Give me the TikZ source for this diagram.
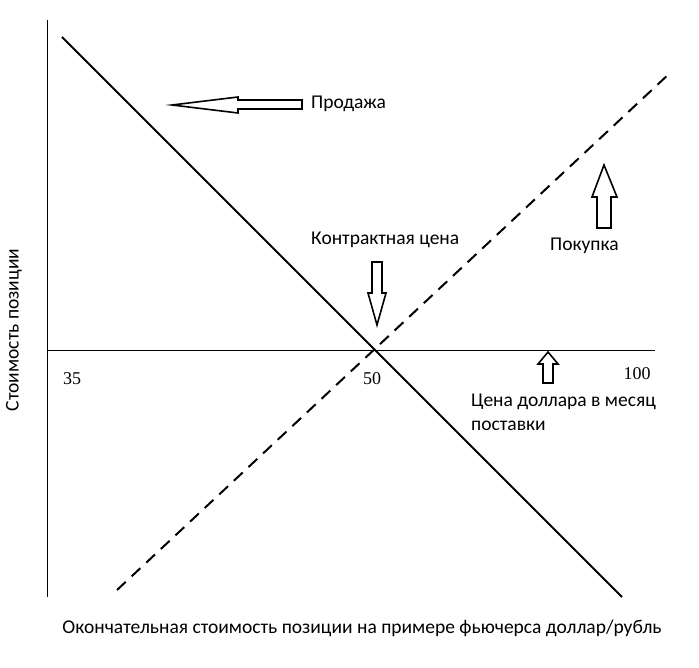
\documentclass[tikz,border=0pt]{standalone}
\usepackage{fontspec}
\setmainfont{Carlito}
\newfontfamily\numfont{Liberation Serif}
\begin{document}
\begin{tikzpicture}[x=1pt,y=-1pt,
  blk/.style={draw,line width=1.6pt,fill=white,line join=miter},
  lbl/.style={inner sep=0pt,font=\fontsize{19.5}{24}\selectfont},
  num/.style={inner sep=0pt,font=\numfont\fontsize{18}{22}\selectfont}]
\useasboundingbox (0,0) rectangle (699,668);
\coordinate (yt) at (47,20); \coordinate (yb) at (47,597);
\coordinate (xl) at (47,350); \coordinate (xr) at (655,350);
\draw[line width=0.8pt] (yt) -- (yb);
\draw[line width=0.8pt] (xl) -- (xr);
\coordinate (s1) at (62,37); \coordinate (s2) at (622,597);
\draw[line width=2pt] (s1) -- (s2);
\coordinate (d1) at (117,590); \coordinate (d2) at (670,73);
\draw[line width=2pt,dash pattern=on 12pt off 8pt] (d1) -- (d2);
% block arrows
\draw[blk] (302,100) -- (238,100) -- (238,97) -- (172,105) -- (238,113) -- (238,109) -- (302,109) -- cycle;
\draw[blk] (372,262) -- (382,262) -- (382,293) -- (386,293) -- (377,325) -- (368,293) -- (372,293) -- cycle;
\draw[blk] (543,383) -- (553,383) -- (553,364) -- (558,364) -- (548,352) -- (538,364) -- (543,364) -- cycle;
\draw[blk] (597,228) -- (611,228) -- (611,197) -- (617,197) -- (604,165) -- (592,197) -- (597,197) -- cycle;
% labels
\node[lbl,anchor=west] (prod) at (311,104) {Продажа};
\node[lbl,anchor=west] (pok) at (550,246) {Покупка};
\node[lbl,anchor=west] (kc) at (311,240) {Контрактная цена};
\node[num] (n35) at (72,379) {35};
\node[num] (n50) at (372,379) {50};
\node[num] (n100) at (637,374) {100};
\node[lbl,anchor=north west,align=left] (cd) at (471,394) {Цена доллара в месяц\\поставки};
\node[lbl] (xlab) at (362,628) {Окончательная стоимость позиции на примере фьючерса доллар/рубль};
\node[lbl,rotate=90] (ylab) at (14,330) {Стоимость позиции};
\end{tikzpicture}
\end{document}
